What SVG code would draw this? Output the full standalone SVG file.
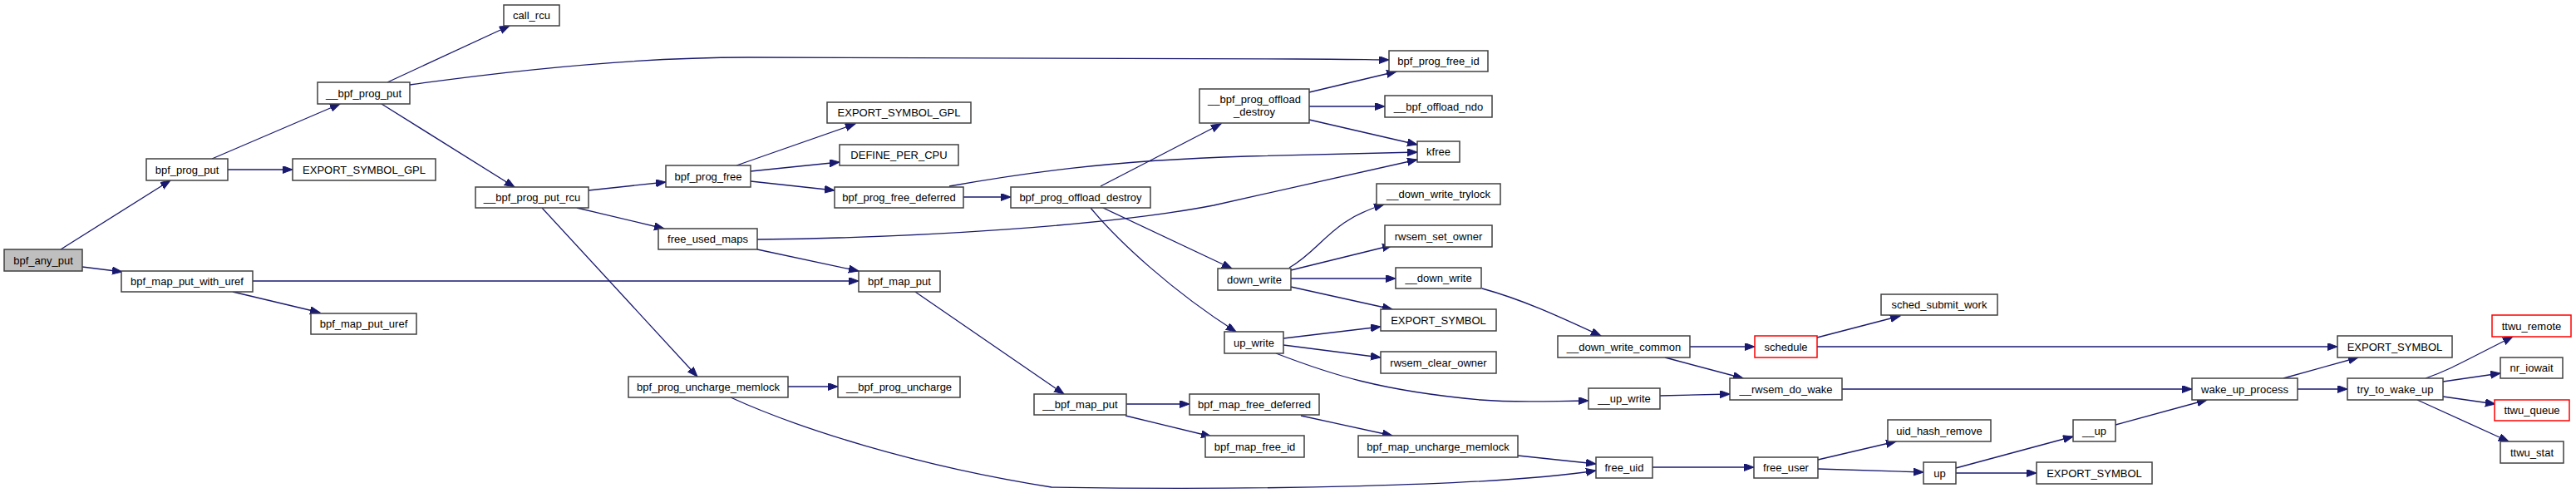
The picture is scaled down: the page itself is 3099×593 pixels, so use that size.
<svg xmlns="http://www.w3.org/2000/svg" width="3099" height="593" viewBox="0 0 3099 593">
<style>
.n rect{fill:#ffffff;stroke:#404040;stroke-width:1.5}
.n.root rect{fill:#bfbfbf}
.n.red rect{stroke:#ff0000}
.n text{font-family:"Liberation Sans",Arial,sans-serif;font-size:13px;fill:#000;text-anchor:middle}
#edges path{fill:none;stroke:#191970;stroke-width:1.3;marker-end:url(#arr)}
</style>
<defs>
<marker id="arr" markerUnits="userSpaceOnUse" markerWidth="13" markerHeight="10" refX="12" refY="4.5" orient="auto">
<path d="M0,0 L12,4.5 L0,9 z" fill="#191970" stroke="#191970" stroke-width="1"/>
</marker>
</defs>
<rect width="3099" height="593" fill="#ffffff"/>
<g id="edges">
<path d="M73,300 L205,217"/>
<path d="M99,321 L147,327"/>
<path d="M255,191 L409,125"/>
<path d="M274,204 L352,204"/>
<path d="M466,99 L613,31"/>
<path d="M493,102 C600,87 750,69 900,69 L1560,71 C1620,71 1650,72 1671,72"/>
<path d="M459,125 L619,225"/>
<path d="M708,229 L801,219"/>
<path d="M694,250 L799,275"/>
<path d="M652,250 L839,453"/>
<path d="M886,199 L1029,149"/>
<path d="M903,206 L1010,195"/>
<path d="M903,218 L1004,229"/>
<path d="M1159,237 L1216,237"/>
<path d="M1142,224 C1220,210 1330,193 1500,188 C1600,186 1660,184 1705,183"/>
<path d="M911,288 C1100,286 1330,272 1460,247 L1705,192"/>
<path d="M911,300 L1033,326"/>
<path d="M1324,224 L1469,149"/>
<path d="M1327,250 L1482,323"/>
<path d="M1312,250 C1345,290 1410,350 1487,399"/>
<path d="M1575,111 L1680,86"/>
<path d="M1575,128 L1666,128"/>
<path d="M1575,144 L1705,174"/>
<path d="M304,338 L1033,338"/>
<path d="M280,351 L385,376"/>
<path d="M1101,351 L1280,474"/>
<path d="M948,465 L1008,465"/>
<path d="M879,478 C960,515 1100,560 1265,586 C1500,590 1800,585 1920,566"/>
<path d="M1355,486 L1431,486"/>
<path d="M1354,500 L1457,525"/>
<path d="M1565,500 L1675,524"/>
<path d="M1826,548 L1920,558"/>
<path d="M1551,322 C1590,300 1600,265 1665,246"/>
<path d="M1553,325 L1675,295"/>
<path d="M1553,335 L1679,335"/>
<path d="M1553,345 L1675,372"/>
<path d="M1544,407 L1661,393"/>
<path d="M1544,415 L1661,430"/>
<path d="M1535,425 C1600,450 1660,470 1781,481 C1830,485 1870,482 1911,482"/>
<path d="M1783,347 C1830,360 1870,378 1926,404"/>
<path d="M2033,417 L2111,417"/>
<path d="M2003,430 L2097,455"/>
<path d="M1997,476 L2081,474"/>
<path d="M2186,406 L2286,380"/>
<path d="M2186,417 L2812,417"/>
<path d="M2216,468 L2637,468"/>
<path d="M1988,562 L2110,562"/>
<path d="M2187,553 L2281,531"/>
<path d="M2187,564 L2314,568"/>
<path d="M2353,563 L2494,525"/>
<path d="M2353,569 L2450,569"/>
<path d="M2545,511 L2655,481"/>
<path d="M2747,455 L2837,430"/>
<path d="M2764,468 L2824,468"/>
<path d="M2918,455 C2945,446 2965,434 3023,405"/>
<path d="M2939,459 L3008,449"/>
<path d="M2939,477 L3002,486"/>
<path d="M2908,481 L3018,531"/>
</g>
<g id="n_bpf_any_put" class="n root"><rect x="5" y="300" width="94" height="26"/><text x="52" y="317.5">bpf_any_put</text></g>
<g id="n_bpf_prog_put" class="n"><rect x="176" y="191" width="98" height="26"/><text x="225" y="208.5">bpf_prog_put</text></g>
<g id="n_bpf_map_put_with_uref" class="n"><rect x="146" y="326" width="158" height="25"/><text x="225" y="343">bpf_map_put_with_uref</text></g>
<g id="n_bpf_map_put_uref" class="n"><rect x="374" y="377" width="127" height="25"/><text x="437.5" y="394">bpf_map_put_uref</text></g>
<g id="n___bpf_prog_put" class="n"><rect x="382" y="99" width="111" height="26"/><text x="437.5" y="116.5">__bpf_prog_put</text></g>
<g id="n_export_symbol_gpl_1" class="n"><rect x="352" y="191" width="172" height="26"/><text x="438" y="208.5">EXPORT_SYMBOL_GPL</text></g>
<g id="n_call_rcu" class="n"><rect x="606" y="6" width="67" height="25"/><text x="639.5" y="23">call_rcu</text></g>
<g id="n___bpf_prog_put_rcu" class="n"><rect x="572" y="225" width="136" height="25"/><text x="640" y="242">__bpf_prog_put_rcu</text></g>
<g id="n_bpf_prog_free" class="n"><rect x="801" y="199" width="102" height="26"/><text x="852" y="216.5">bpf_prog_free</text></g>
<g id="n_free_used_maps" class="n"><rect x="792" y="275" width="119" height="25"/><text x="851.5" y="292">free_used_maps</text></g>
<g id="n_bpf_prog_uncharge_memlock" class="n"><rect x="756" y="453" width="192" height="25"/><text x="852" y="470">bpf_prog_uncharge_memlock</text></g>
<g id="n_export_symbol_gpl_2" class="n"><rect x="995" y="123" width="173" height="25"/><text x="1081.5" y="140">EXPORT_SYMBOL_GPL</text></g>
<g id="n_define_per_cpu" class="n"><rect x="1010" y="174" width="143" height="25"/><text x="1081.5" y="191">DEFINE_PER_CPU</text></g>
<g id="n_bpf_prog_free_deferred" class="n"><rect x="1004" y="225" width="155" height="25"/><text x="1081.5" y="242">bpf_prog_free_deferred</text></g>
<g id="n_bpf_map_put" class="n"><rect x="1033" y="326" width="98" height="25"/><text x="1082" y="343">bpf_map_put</text></g>
<g id="n___bpf_prog_uncharge" class="n"><rect x="1008" y="453" width="147" height="25"/><text x="1081.5" y="470">__bpf_prog_uncharge</text></g>
<g id="n_bpf_prog_offload_destroy" class="n"><rect x="1216" y="225" width="168" height="25"/><text x="1300" y="242">bpf_prog_offload_destroy</text></g>
<g id="n___bpf_prog_offload_destroy" class="n"><rect x="1443" y="107" width="132" height="41"/><text x="1509" y="124">__bpf_prog_offload</text><text x="1509" y="139">_destroy</text></g>
<g id="n___bpf_map_put" class="n"><rect x="1244" y="474" width="111" height="25"/><text x="1299.5" y="491">__bpf_map_put</text></g>
<g id="n_bpf_map_free_deferred" class="n"><rect x="1431" y="474" width="156" height="25"/><text x="1509" y="491">bpf_map_free_deferred</text></g>
<g id="n_bpf_map_free_id" class="n"><rect x="1450" y="524" width="119" height="26"/><text x="1509.5" y="541.5">bpf_map_free_id</text></g>
<g id="n_down_write" class="n"><rect x="1465" y="323" width="88" height="26"/><text x="1509" y="340.5">down_write</text></g>
<g id="n_up_write" class="n"><rect x="1473" y="399" width="71" height="26"/><text x="1508.5" y="416.5">up_write</text></g>
<g id="n_bpf_prog_free_id" class="n"><rect x="1671" y="61" width="119" height="25"/><text x="1730.5" y="78">bpf_prog_free_id</text></g>
<g id="n___bpf_offload_ndo" class="n"><rect x="1666" y="115" width="129" height="26"/><text x="1730.5" y="132.5">__bpf_offload_ndo</text></g>
<g id="n_kfree" class="n"><rect x="1705" y="170" width="51" height="25"/><text x="1730.5" y="187">kfree</text></g>
<g id="n___down_write_trylock" class="n"><rect x="1656" y="221" width="149" height="25"/><text x="1730.5" y="238">__down_write_trylock</text></g>
<g id="n_rwsem_set_owner" class="n"><rect x="1666" y="271" width="129" height="26"/><text x="1730.5" y="288.5">rwsem_set_owner</text></g>
<g id="n___down_write" class="n"><rect x="1679" y="322" width="103" height="25"/><text x="1730.5" y="339">__down_write</text></g>
<g id="n_export_symbol_1" class="n"><rect x="1661" y="372" width="139" height="26"/><text x="1730.5" y="389.5">EXPORT_SYMBOL</text></g>
<g id="n_rwsem_clear_owner" class="n"><rect x="1661" y="423" width="139" height="26"/><text x="1730.5" y="440.5">rwsem_clear_owner</text></g>
<g id="n_bpf_map_uncharge_memlock" class="n"><rect x="1634" y="524" width="192" height="26"/><text x="1730" y="541.5">bpf_map_uncharge_memlock</text></g>
<g id="n___down_write_common" class="n"><rect x="1874" y="404" width="159" height="26"/><text x="1953.5" y="421.5">__down_write_common</text></g>
<g id="n___up_write" class="n"><rect x="1911" y="467" width="86" height="25"/><text x="1954" y="484">__up_write</text></g>
<g id="n_free_uid" class="n"><rect x="1920" y="550" width="68" height="25"/><text x="1954" y="567">free_uid</text></g>
<g id="n_schedule" class="n red"><rect x="2111" y="404" width="75" height="26"/><text x="2148.5" y="421.5">schedule</text></g>
<g id="n___rwsem_do_wake" class="n"><rect x="2081" y="455" width="135" height="26"/><text x="2148.5" y="472.5">__rwsem_do_wake</text></g>
<g id="n_sched_submit_work" class="n"><rect x="2263" y="354" width="140" height="25"/><text x="2333" y="371">sched_submit_work</text></g>
<g id="n_uid_hash_remove" class="n"><rect x="2271" y="505" width="124" height="26"/><text x="2333" y="522.5">uid_hash_remove</text></g>
<g id="n_free_user" class="n"><rect x="2110" y="550" width="77" height="25"/><text x="2148.5" y="567">free_user</text></g>
<g id="n_up" class="n"><rect x="2314" y="556" width="39" height="26"/><text x="2333.5" y="573.5">up</text></g>
<g id="n___up" class="n"><rect x="2494" y="505" width="51" height="26"/><text x="2519.5" y="522.5">__up</text></g>
<g id="n_export_symbol_3" class="n"><rect x="2450" y="556" width="139" height="26"/><text x="2519.5" y="573.5">EXPORT_SYMBOL</text></g>
<g id="n_export_symbol_2" class="n"><rect x="2812" y="404" width="138" height="26"/><text x="2881" y="421.5">EXPORT_SYMBOL</text></g>
<g id="n_wake_up_process" class="n"><rect x="2637" y="455" width="127" height="26"/><text x="2700.5" y="472.5">wake_up_process</text></g>
<g id="n_try_to_wake_up" class="n"><rect x="2824" y="455" width="115" height="26"/><text x="2881.5" y="472.5">try_to_wake_up</text></g>
<g id="n_ttwu_remote" class="n red"><rect x="2998" y="379" width="95" height="26"/><text x="3045.5" y="396.5">ttwu_remote</text></g>
<g id="n_nr_iowait" class="n"><rect x="3008" y="430" width="75" height="25"/><text x="3045.5" y="447">nr_iowait</text></g>
<g id="n_ttwu_queue" class="n red"><rect x="3001" y="481" width="90" height="25"/><text x="3046" y="498">ttwu_queue</text></g>
<g id="n_ttwu_stat" class="n"><rect x="3008" y="531" width="76" height="26"/><text x="3046" y="548.5">ttwu_stat</text></g>
</svg>
